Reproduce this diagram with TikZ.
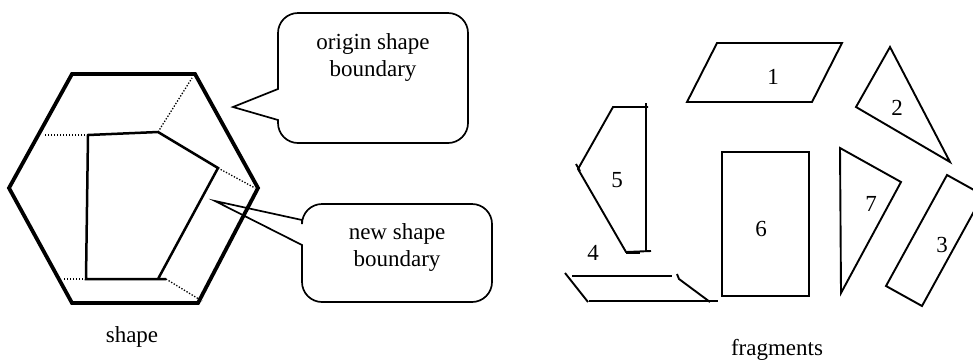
\documentclass[tikz,border=0pt]{standalone}
\usepackage{fontspec}
\setmainfont{Liberation Serif}
\usetikzlibrary{positioning}

\tikzset{
  hexline/.style={line width=3.8pt, line join=miter},
  cutline/.style={line width=2.5pt, line join=miter},
  guide/.style={line width=1.3pt, dash pattern=on 1.3pt off 1.7pt},
  piece/.style={line width=1.9pt, line join=miter},
  bubble/.style={line width=1.7pt},
  lbl/.style={font=\fontsize{23}{27}\selectfont, align=center, inner sep=0pt},
}

\begin{document}
\begin{tikzpicture}[x=1pt, y=-1pt]
        \clip (0,0) rectangle (973,360);

        % original shape
        \coordinate (h1) at (72,74);
        \coordinate (h2) at (195,74);
        \coordinate (h3) at (258,188);
        \coordinate (h4) at (198,303);
        \coordinate (h5) at (72,303);
        \coordinate (h6) at (9,188);
        \draw[hexline] (h1) -- (h2) -- (h3) -- (h4) -- (h5) -- (h6) -- cycle;

        % new shape
        \coordinate (p1) at (88,135);
        \coordinate (p2) at (158,132);
        \coordinate (p3) at (218,168);
        \coordinate (p4) at (158,279);
        \coordinate (p5) at (86,279);
        \coordinate (p6) at (166,279);
        \draw[cutline] (p6) -- (p5) -- (p1) -- (p2) -- (p3) -- (p4);

        \coordinate (g1) at (45,135);
        \coordinate (g2) at (192,78);
        \coordinate (g3) at (255,188);
        \coordinate (g4) at (202,301);
        \coordinate (g5) at (63,279);
        \draw[guide] (p1) -- (g1);
        \draw[guide] (p2) -- (g2);
        \draw[guide] (p3) -- (g3);
        \draw[guide] (p6) -- (g4);
        \draw[guide] (p5) -- (g5);

        \node[lbl] (shapelbl) at (132,337) {shape};

        % callouts
        \node[lbl] (orig) at (373,57) {origin shape\\boundary};
        \coordinate (origtip) at (233,107);
        \draw[bubble] (278,89) [rounded corners=20pt] -- (278,13) -- (468,13) -- (468,143)
              -- (278,143) [sharp corners] -- (278,120) -- (origtip) -- cycle;

        \node[lbl] (new) at (397,247) {new shape\\boundary};
        \coordinate (newtip) at (215,201);
        \draw[bubble] (302,245) [rounded corners=20pt] -- (302,302) -- (492,302) -- (492,204)
              -- (302,204) [sharp corners] -- (302,220) -- (newtip) -- cycle;

        % fragments
        \draw[piece] (717,43) -- (842,43) -- (812,102) -- (687,102) -- cycle;
        \node[lbl] (f1) at (773,77) {1};

        \draw[piece] (890,47) -- (950,162) -- (856,107) -- cycle;
        \node[lbl] (f2) at (897,108) {2};

        \draw[piece] (947,175) -- (983,195) -- (922,306) -- (886,286) -- cycle;
        \node[lbl] (f3) at (942,245) {3};

        \draw[piece] (572,276) -- (672,276);
        \draw[piece] (565,273) -- (588,302);
        \draw[piece] (589,301) -- (718,301);
        \draw[piece] (677,274) -- (679,279) -- (710,302);
        \node[lbl] (f4) at (593,253) {4};

        \draw[piece] (648,107) -- (613,107) -- (578,169) -- (626,252) -- (651,251);
        \draw[piece] (646,103) -- (646,251);
        \draw[piece] (576,164) -- (580,171);
        \draw[piece] (626,253) -- (640,253);
        \node[lbl] (f5) at (617,180) {5};

        \draw[piece] (722,152) rectangle (809,296);
        \node[lbl] (f6) at (761,229) {6};

        \draw[piece] (840,148) -- (901,182) -- (841,293) -- cycle;
        \node[lbl] (f7) at (871,204) {7};

        \node[lbl] (fraglbl) at (777,350) {fragments};
\end{tikzpicture}
\end{document}
